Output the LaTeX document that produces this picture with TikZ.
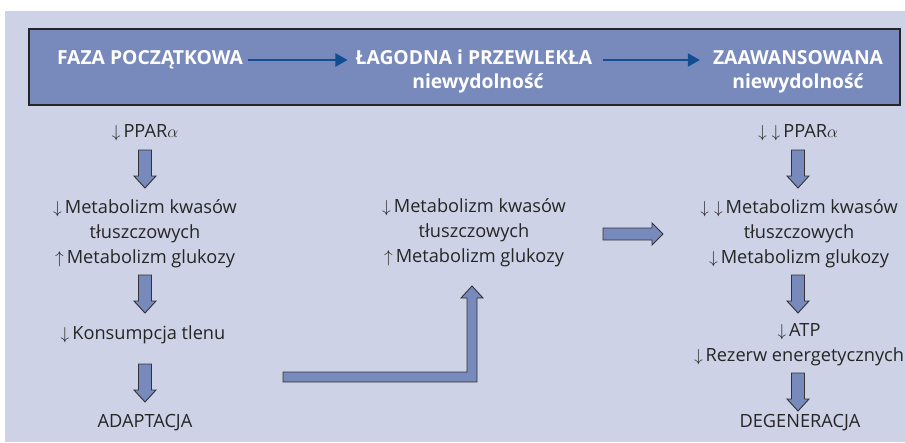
\documentclass[tikz,border=0pt]{standalone}
\usepackage{fontspec}
\setmainfont{Open Sans}
\usetikzlibrary{arrows.meta}

\definecolor{bgpanel}{HTML}{CDD2E6}
\definecolor{hdrfill}{HTML}{7889BC}
\definecolor{hdrblue}{HTML}{124C92}
\definecolor{txtgray}{HTML}{262626}

\tikzset{
  hdrtext/.style={text=white, font=\fontsize{19.3}{23}\selectfont\bfseries, inner sep=0pt, anchor=base},
  bodytext/.style={text=txtgray, font=\fontsize{18.2}{25}\selectfont, align=center, inner sep=0pt},
  blockarr/.style={fill=hdrfill, draw=black!80, line width=0.9pt, line join=miter},
  hdrarr/.style={draw=hdrblue, line width=2pt, -{Triangle[length=12pt,width=13pt]}},
  pics/downarr/.style={code={
    \draw[blockarr] (-6.5,0) -- (6.5,0) -- (6.5,26) -- (11,26) -- (0,38) -- (-11,26) -- (-6.5,26) -- cycle;}},
  pics/rightarr/.style={code={
    \draw[blockarr] (0,-6) -- (49,-6) -- (49,-11) -- (60,0) -- (49,11) -- (49,6) -- (0,6) -- cycle;}},
}
\newcommand{\dn}{$\downarrow$\,}
\newcommand{\up}{$\uparrow$\,}

\begin{document}
\begin{tikzpicture}[x=1pt,y=-1pt]
	\useasboundingbox (0,0) rectangle (905,442);
	\fill[bgpanel] (5,11) rectangle (905,442);
	\draw[fill=hdrfill, draw=black!85, line width=1.2pt] (29,29) rectangle (900,105);

	% header
	\node[hdrtext] (faza) at (150,64) {FAZA POCZĄTKOWA};
	\node[hdrtext] (lagodna) at (474,64) {ŁAGODNA i PRZEWLEKŁA};
	\node[hdrtext] (lagodnaN) at (478,88) {niewydolność};
	\node[hdrtext] (zaaw) at (798,64) {ZAAWANSOWANA};
	\node[hdrtext] (zaawN) at (798,88) {niewydolność};
	\draw[hdrarr] ([xshift=5pt,yshift=4pt]faza.base east) -- ([xshift=-8pt,yshift=4pt]lagodna.base west);
	\draw[hdrarr] ([xshift=10pt,yshift=4pt]lagodna.base east) -- ([xshift=-13pt,yshift=4pt]zaaw.base west);

	% left column
	\node[bodytext] (pparL) at (145,133) {\dn PPAR$\alpha$};
	\node[bodytext] (metabL) at (145,234) {\dn Metabolizm kwasów\\tłuszczowych\\\up Metabolizm glukozy};
	\node[bodytext] (konsL) at (143,335) {\dn Konsumpcja tlenu};
	\node[bodytext] (adapt) at (145,423) {ADAPTACJA};
	\pic at (145,150) {downarr};
	\pic at (145,275) {downarr};
	\pic at (145,364) {downarr};

	% middle column
	\node[bodytext] (metabM) at (474,233) {\dn Metabolizm kwasów\\tłuszczowych\\\up Metabolizm glukozy};
	\draw[blockarr] (283,372) -- (467,372) -- (467,298) -- (461,298) -- (472,286) -- (483,298) -- (477,298) -- (477,382) -- (283,382) -- cycle;
	\pic at (603,234) {rightarr};

	% right column
	\node[bodytext] (pparR) at (798,133) {$\downarrow$\;\dn PPAR$\alpha$};
	\node[bodytext] (metabR) at (799,234) {$\downarrow$\;\dn Metabolizm kwasów\\tłuszczowych\\\dn Metabolizm glukozy};
	\node[bodytext] (atp) at (799,345) {\dn ATP\\\dn Rezerw energetycznych};
	\node[bodytext] (degen) at (800,423) {DEGENERACJA};
	\pic at (798,150) {downarr};
	\pic at (798,275) {downarr};
	\pic at (798,373) {downarr};
\end{tikzpicture}
\end{document}
